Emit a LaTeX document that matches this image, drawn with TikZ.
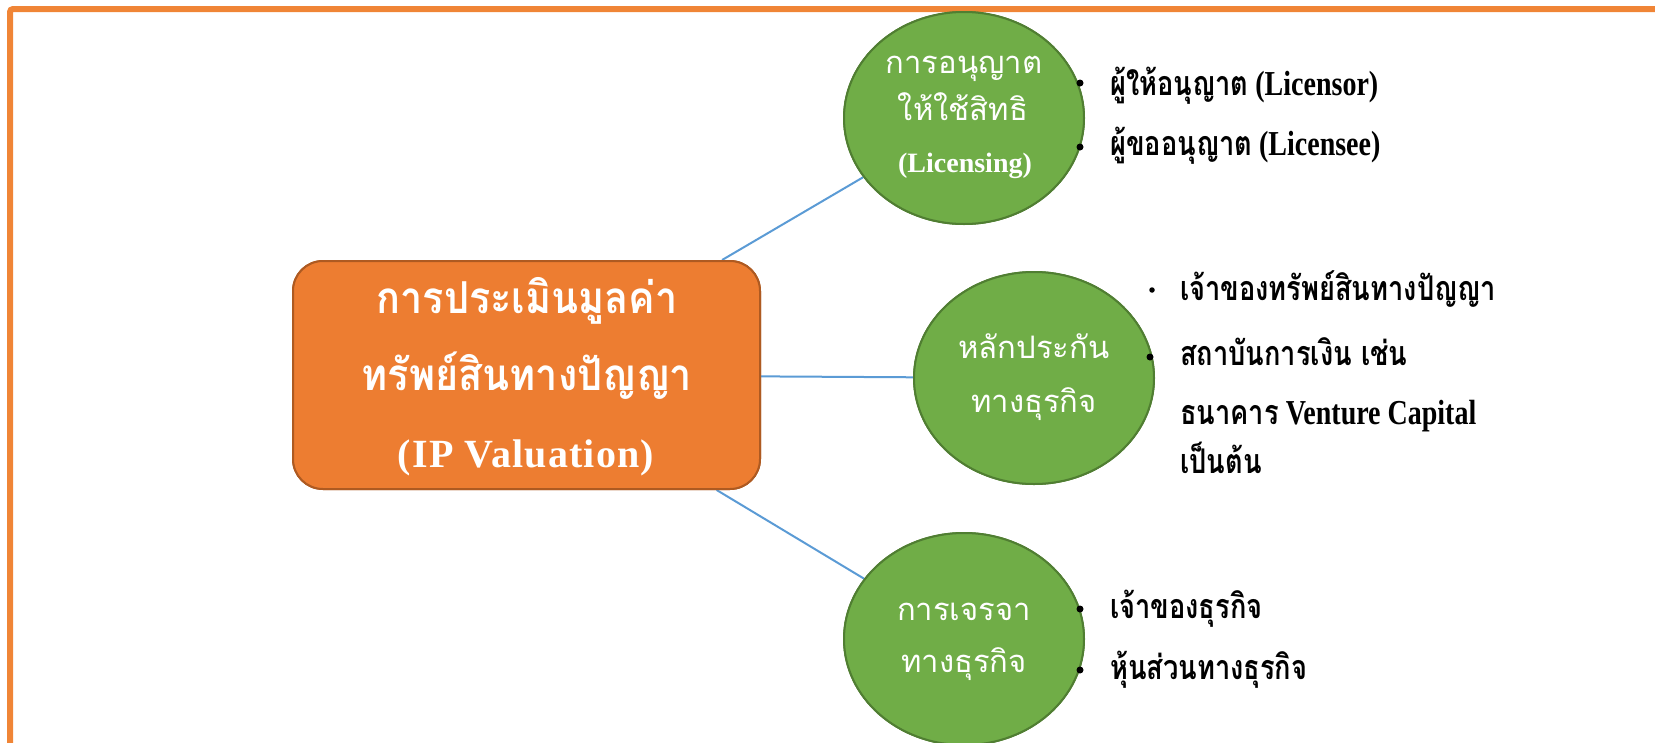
\documentclass[tikz,border=0pt]{standalone}
\usepackage{fontspec}
\usetikzlibrary{shapes.geometric}
\newfontfamily\thaireg[Script=Thai]{Loma}
\newfontfamily\thaibox[Script=Thai,FakeStretch=0.9]{Loma}
\newfontfamily\thainar[Script=Thai,FakeStretch=0.8]{Loma}
\newfontfamily\latser{Liberation Serif}
\newfontfamily\latspaced[LetterSpace=3]{Liberation Serif}
\newfontfamily\latnar[FakeStretch=0.8]{Liberation Serif}
\definecolor{frameorange}{HTML}{F08536}
\definecolor{boxorange}{HTML}{ED7D31}
\definecolor{boxedge}{HTML}{AE5A21}
\definecolor{ellgreen}{HTML}{70AD47}
\definecolor{elledge}{HTML}{507E32}
\definecolor{connblue}{HTML}{5B9BD5}
\newcommand{\TB}[1]{{\thainar\bfseries\fontsize{34}{38}\selectfont #1}}
\tikzset{
  centerbox/.style={draw=boxedge, fill=boxorange, line width=2pt, rounded corners=30pt,
    minimum width=467pt, minimum height=228pt, inner sep=0pt},
  greenell/.style={ellipse, draw=elledge, fill=ellgreen, line width=2pt,
    minimum width=240pt, minimum height=212pt, inner sep=0pt},
  conn/.style={draw=connblue, line width=2pt},
  boxtext/.style={text=white, inner sep=0pt, anchor=base, font=\thaibox\bfseries\fontsize{44}{48}\selectfont},
  elltext/.style={text=white, inner sep=0pt, anchor=base, font=\thaireg\fontsize{31}{34}\selectfont},
  itemtext/.style={text=black, inner sep=0pt, anchor=base west, font=\latnar\bfseries\fontsize{35}{40}\selectfont},
  dotbig/.style={circle, fill=black, inner sep=0pt, minimum size=7pt},
  dotsmall/.style={circle, fill=black, inner sep=0pt, minimum size=5.5pt}
}
\begin{document}
\begin{tikzpicture}[x=1pt, y=-1pt]
\useasboundingbox (0,0) rectangle (1655,742);
% page frame
\draw[frameorange, line width=6pt, rounded corners=3pt] (10,760) -- (10,9) -- (1670,9);
% shapes
\node[centerbox] (box) at (526.5,375) {};
\node[greenell] (e1) at (964,118) {};
\node[greenell] (e2) at (1034,378) {};
\node[greenell] (e3) at (964,639) {};
% connectors
\draw[conn] (box) -- (e1);
\draw[conn] (box) -- (e2);
\draw[conn] (box) -- (e3);
% redraw shapes above connectors
\node[centerbox] at (box.center) {};
\node[greenell] at (e1.center) {};
\node[greenell] at (e2.center) {};
\node[greenell] at (e3.center) {};
% center box text
\node[boxtext] (b1) at (527,313) {การประเมินมูลค่า};
\node[boxtext] (b2) at (527,390) {ทรัพย์สินทางปัญญา};
\node[boxtext, font=\latspaced\bfseries\fontsize{40}{44}\selectfont] (b3) at (526,467) {(IP Valuation)};
% ellipse 1 text
\node[elltext] (t11) at (964,73) {การอนุญาต};
\node[elltext] (t12) at (963,120) {ให้ใช้สิทธิ};
\node[elltext, font=\latser\bfseries\fontsize{28}{32}\selectfont] (t13) at (965,172) {(Licensing)};
% ellipse 2 text
\node[elltext] (t21) at (1034,358) {หลักประกัน};
\node[elltext] (t22) at (1034,412) {ทางธุรกิจ};
% ellipse 3 text
\node[elltext] (t31) at (964,620) {การเจรจา};
\node[elltext] (t32) at (964,672) {ทางธุรกิจ};
% bullets
\node[dotbig] (d11) at (1080,83) {};
\node[dotbig] (d12) at (1080,147) {};
\node[dotsmall] (d21) at (1152,290) {};
\node[dotbig] (d22) at (1150,357) {};
\node[dotbig] (d31) at (1080,609) {};
\node[dotbig] (d32) at (1080,670) {};
% items
\node[itemtext] (i11) at (1110,95) {\TB{ผู้ให้อนุญาต} (Licensor)};
\node[itemtext] (i12) at (1110,155) {\TB{ผู้ขออนุญาต} (Licensee)};
\node[itemtext] (i21) at (1180,300) {\TB{เจ้าของทรัพย์สินทางปัญญา}};
\node[itemtext] (i22) at (1180,365) {\TB{สถาบันการเงิน เช่น}};
\node[itemtext] (i23) at (1180,424) {\TB{ธนาคาร} Venture Capital};
\node[itemtext] (i24) at (1180,473) {\TB{เป็นต้น}};
\node[itemtext] (i31) at (1110,618) {\TB{เจ้าของธุรกิจ}};
\node[itemtext] (i32) at (1110,679) {\TB{หุ้นส่วนทางธุรกิจ}};
\end{tikzpicture}
\end{document}
